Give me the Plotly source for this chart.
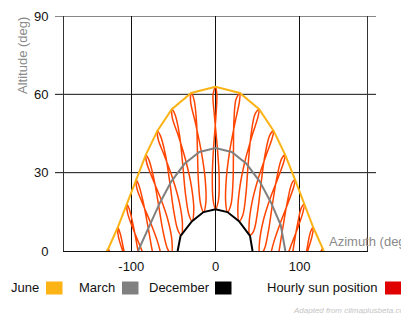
import plotly.graph_objects as go

# ---------------- data ----------------
# Hourly sun positions, hours from solar noon: -8 .. +8 (17 values each)
hours = [-8, -7, -6, -5, -4, -3, -2, -1, 0, 1, 2, 3, 4, 5, 6, 7, 8]

jun_az = [-127.4, -116.2, -105.4, -94.5, -82.8, -69.1, -51.9, -28.9, 0, 28.9, 51.9, 69.1, 82.8, 94.5, 105.4, 116.2, 127.4]
jun_alt = [0.9, 9.0, 17.9, 27.3, 36.8, 46.0, 54.3, 60.5, 62.9, 60.5, 54.3, 46.0, 36.8, 27.3, 17.9, 9.0, 0.9]

jul_az = [-127.0, -115.5, -104.5, -93.4, -81.6, -68.1, -51.3, -29.6, -2.9, 24.4, 47.1, 64.8, 78.8, 91.0, 102.1, 113.1, 124.4]
jul_alt = [-2.5, 5.7, 14.6, 24.0, 33.6, 42.8, 51.0, 57.2, 59.9, 58.1, 52.5, 44.6, 35.5, 26.1, 16.6, 7.5, -0.9]

aug_az = [-121.6, -109.7, -98.3, -86.8, -74.6, -60.7, -44.1, -24.1, -1.2, 21.9, 42.3, 59.1, 73.2, 85.6, 97.1, 108.5, 120.4]
aug_alt = [-9.1, -0.5, 8.8, 18.3, 27.6, 36.5, 44.1, 49.4, 51.5, 49.8, 44.7, 37.3, 28.6, 19.2, 9.7, 0.4, -8.3]

sep_az = [-112.5, -100.3, -88.6, -76.9, -64.5, -50.7, -34.9, -17.0, 2.2, 21.3, 38.7, 54.1, 67.5, 79.7, 91.4, 103.1, 115.5]
sep_alt = [-17.6, -8.4, 1.1, 10.6, 19.6, 27.6, 34.1, 38.3, 39.5, 37.6, 32.8, 25.8, 17.6, 8.4, -1.1, -10.6, -19.6]

oct_az = [-103.8, -91.5, -80.1, -68.6, -56.4, -43.2, -28.5, -12.4, 4.3, 20.8, 36.2, 50.2, 62.8, 74.6, 86.0, 97.7, 110.0]
oct_alt = [-24.8, -15.5, -5.9, 3.3, 11.7, 19.0, 24.6, 28.0, 28.6, 26.6, 22.0, 15.5, 7.5, -1.4, -10.8, -20.3, -29.6]

nov_az = [-97.5, -85.5, -74.4, -63.2, -51.7, -39.3, -25.8, -11.4, 3.5, 18.3, 32.3, 45.3, 57.3, 68.6, 79.6, 90.7, 102.7]
nov_alt = [-32.0, -22.6, -13.1, -4.2, 3.8, 10.6, 15.8, 18.8, 19.5, 17.7, 13.6, 7.6, 0.2, -8.3, -17.5, -27.0, -36.4]

dec_az = [-97.2, -85.5, -74.6, -63.8, -52.6, -40.7, -27.9, -14.2, 0, 14.2, 27.9, 40.7, 52.6, 63.8, 74.6, 85.5, 97.2]
dec_alt = [-36.8, -27.3, -17.9, -9.0, -0.9, 6.1, 11.4, 14.9, 16.1, 14.9, 11.4, 6.1, -0.9, -9.0, -17.9, -27.3, -36.8]

jan_az = [-102.2, -90.2, -79.1, -68.0, -56.7, -44.7, -31.6, -17.6, -2.8, 12.1, 26.5, 39.9, 52.3, 63.8, 74.9, 86.0, 98.0]
jan_alt = [-35.9, -26.5, -17.0, -7.9, 0.6, 8.0, 13.9, 17.8, 19.5, 18.7, 15.5, 10.3, 3.4, -4.7, -13.6, -23.0, -32.5]

feb_az = [-109.7, -97.4, -85.7, -74.3, -62.5, -49.8, -35.8, -20.3, -3.8, 12.9, 28.9, 43.5, 56.7, 68.9, 80.4, 91.8, 104.1]
feb_alt = [-29.4, -20.1, -10.5, -1.1, 7.8, 15.7, 22.2, 26.7, 28.6, 27.9, 24.4, 18.8, 11.5, 3.0, -6.2, -15.7, -25.0]

mar_az = [-115.6, -103.1, -91.4, -79.7, -67.6, -54.1, -38.8, -21.4, -2.3, 16.9, 34.8, 50.6, 64.4, 76.9, 88.6, 100.3, 112.4]
mar_alt = [-19.6, -10.6, -1.1, 8.4, 17.5, 25.8, 32.7, 37.5, 39.5, 38.3, 34.1, 27.6, 19.6, 10.6, 1.1, -8.4, -17.5]

apr_az = [-120.8, -108.9, -97.5, -86.0, -73.6, -59.6, -42.8, -22.6, 0.5, 23.4, 43.6, 60.2, 74.2, 86.4, 97.9, 109.3, 121.3]
apr_alt = [-8.5, 0.2, 9.4, 18.9, 28.3, 37.1, 44.5, 49.7, 51.5, 49.5, 44.3, 36.7, 27.9, 18.6, 9.0, -0.2, -8.8]

may_az = [-125.0, -113.6, -102.6, -91.5, -79.4, -65.5, -48.0, -25.5, 1.6, 28.5, 50.4, 67.3, 81.0, 92.9, 104.0, 115.0, 126.4]
may_alt = [-1.2, 7.1, 16.2, 25.6, 35.1, 44.2, 52.2, 57.9, 59.9, 57.4, 51.3, 43.2, 34.0, 24.5, 15.0, 6.1, -2.1]

# Day curves as drawn
june_curve_az = [-129.5] + jun_az + [128.5]
june_curve_alt = [0] + jun_alt + [0]

march_curve_az = [-92, -78.3, -66, -52.4, -36.8, -19.2, 0, 19.2, 36.8, 52.4, 66, 77.5, 83]
march_curve_alt = [0, 9.5, 18.5, 26.7, 33.4, 37.9, 39.4, 37.9, 33.4, 26.7, 18.5, 9.9, 0]

december_curve_az = [-45, -41.5, -27.9, -14.2, 0, 14.2, 27.9, 41, 44]
december_curve_alt = [0, 5.8, 11.4, 14.9, 16.0, 14.9, 11.4, 5.8, 0]

x_ticks = [-100, 0, 100]
y_ticks = [0, 30, 60, 90]

legend_items = ["June", "March", "December", "Hourly sun position"]

# ---------------- styling ----------------
# The page body adds an 8px margin, so the figure is placed at (8, 8) in the window.
OFF = 8
W, H = 409 - OFF, 314 - OFF
# plot area in window pixels
L, R, T, B = 64, 367, 16, 251
FONT = "Liberation Sans, Arial, sans-serif"
C_JUNE = "#FBB316"
C_MARCH = "#808080"
C_DEC = "#000000"
C_LOOP = "#FF4500"
C_LEG_RED = "#E00000"


def pxx(p):
    return (p - L) / (R - L)


def pxy(p):
    return (B - p) / (B - T)


months_az = [jun_az, jul_az, aug_az, sep_az, oct_az, nov_az, dec_az,
             jan_az, feb_az, mar_az, apr_az, may_az, jun_az]
months_alt = [jun_alt, jul_alt, aug_alt, sep_alt, oct_alt, nov_alt, dec_alt,
              jan_alt, feb_alt, mar_alt, apr_alt, may_alt, jun_alt]

fig = go.Figure()

for k in range(len(hours)):
    fig.add_trace(go.Scatter(
        x=[m[k] for m in months_az], y=[m[k] for m in months_alt],
        mode="lines", line=dict(color=C_LOOP, width=1.5, shape="spline", smoothing=1),
        showlegend=False, hoverinfo="skip"))

fig.add_trace(go.Scatter(x=march_curve_az, y=march_curve_alt, mode="lines",
                         line=dict(color=C_MARCH, width=2), showlegend=False))
fig.add_trace(go.Scatter(x=december_curve_az, y=december_curve_alt, mode="lines",
                         line=dict(color=C_DEC, width=2), showlegend=False))
fig.add_trace(go.Scatter(x=june_curve_az, y=june_curve_alt, mode="lines",
                         line=dict(color=C_JUNE, width=2), showlegend=False))

shapes = []
# extended horizontal grid lines
for yv in [30, 60, 90]:
    shapes.append(dict(type="line", xref="paper", yref="y", x0=pxx(55), x1=pxx(376),
                       y0=yv, y1=yv, line=dict(color="#111", width=1), layer="below"))

# legend swatches
sw_left = [46, 122, 215, 385]
sw_colors = [C_JUNE, C_MARCH, C_DEC, C_LEG_RED]
for xl, col in zip(sw_left, sw_colors):
    shapes.append(dict(type="rect", xref="paper", yref="paper",
                       x0=pxx(xl), x1=pxx(xl + 16.5), y0=pxy(294.5), y1=pxy(281.5),
                       fillcolor=col, line=dict(width=0)))

annotations = [
    dict(text="Altitude (deg)", xref="paper", yref="paper", x=pxx(22), y=pxy(55),
         textangle=-90, showarrow=False, xanchor="center", yanchor="middle",
         font=dict(family=FONT, size=13, color="#8a8a8a")),
    dict(text="Azimuth (deg)", xref="paper", yref="paper", x=pxx(327), y=pxy(241.5),
         showarrow=False, xanchor="left", yanchor="middle",
         font=dict(family=FONT, size=13, color="#8a8a8a")),
    dict(text="Adapted from climaplusbeta.com", xref="paper", yref="paper", x=pxx(291),
         y=pxy(310.5), showarrow=False, xanchor="left", yanchor="middle",
         font=dict(family=FONT, size=8, color="#c4c4c4", style="italic")),
]
leg_x = [9, 77, 147, 265]
for txt, xl in zip(legend_items, leg_x):
    annotations.append(dict(text=txt, xref="paper", yref="paper", x=pxx(xl), y=pxy(287.5),
                            showarrow=False, xanchor="left", yanchor="middle",
                            font=dict(family=FONT, size=13, color="#111")))

fig.update_layout(
    width=W, height=H,
    margin=dict(l=L - OFF, r=W - (R - OFF), t=T - OFF, b=H - (B - OFF), pad=0, autoexpand=False),
    paper_bgcolor="white", plot_bgcolor="white",
    font=dict(family=FONT, size=13, color="#111"),
    showlegend=False,
    shapes=shapes, annotations=annotations,
    xaxis=dict(range=[-180, 180], tickvals=x_ticks, ticktext=[str(v) for v in x_ticks],
               showgrid=True, gridcolor="#111", gridwidth=1, zeroline=False,
               showline=True, linecolor="#111", linewidth=1, mirror=False,
               ticks="outside", ticklen=3, tickcolor="rgba(0,0,0,0)",
               tickfont=dict(family=FONT, size=13, color="#111"), fixedrange=True,
               automargin=False),
    yaxis=dict(range=[0, 90], tickvals=y_ticks, ticktext=[str(v) for v in y_ticks],
               showgrid=False, zeroline=False,
               showline=True, linecolor="#333", linewidth=1, mirror=True,
               ticks="outside", ticklen=12, tickcolor="rgba(0,0,0,0)",
               tickfont=dict(family=FONT, size=13, color="#111"), fixedrange=True,
               automargin=False),
)

fig.write_html("out.html")
